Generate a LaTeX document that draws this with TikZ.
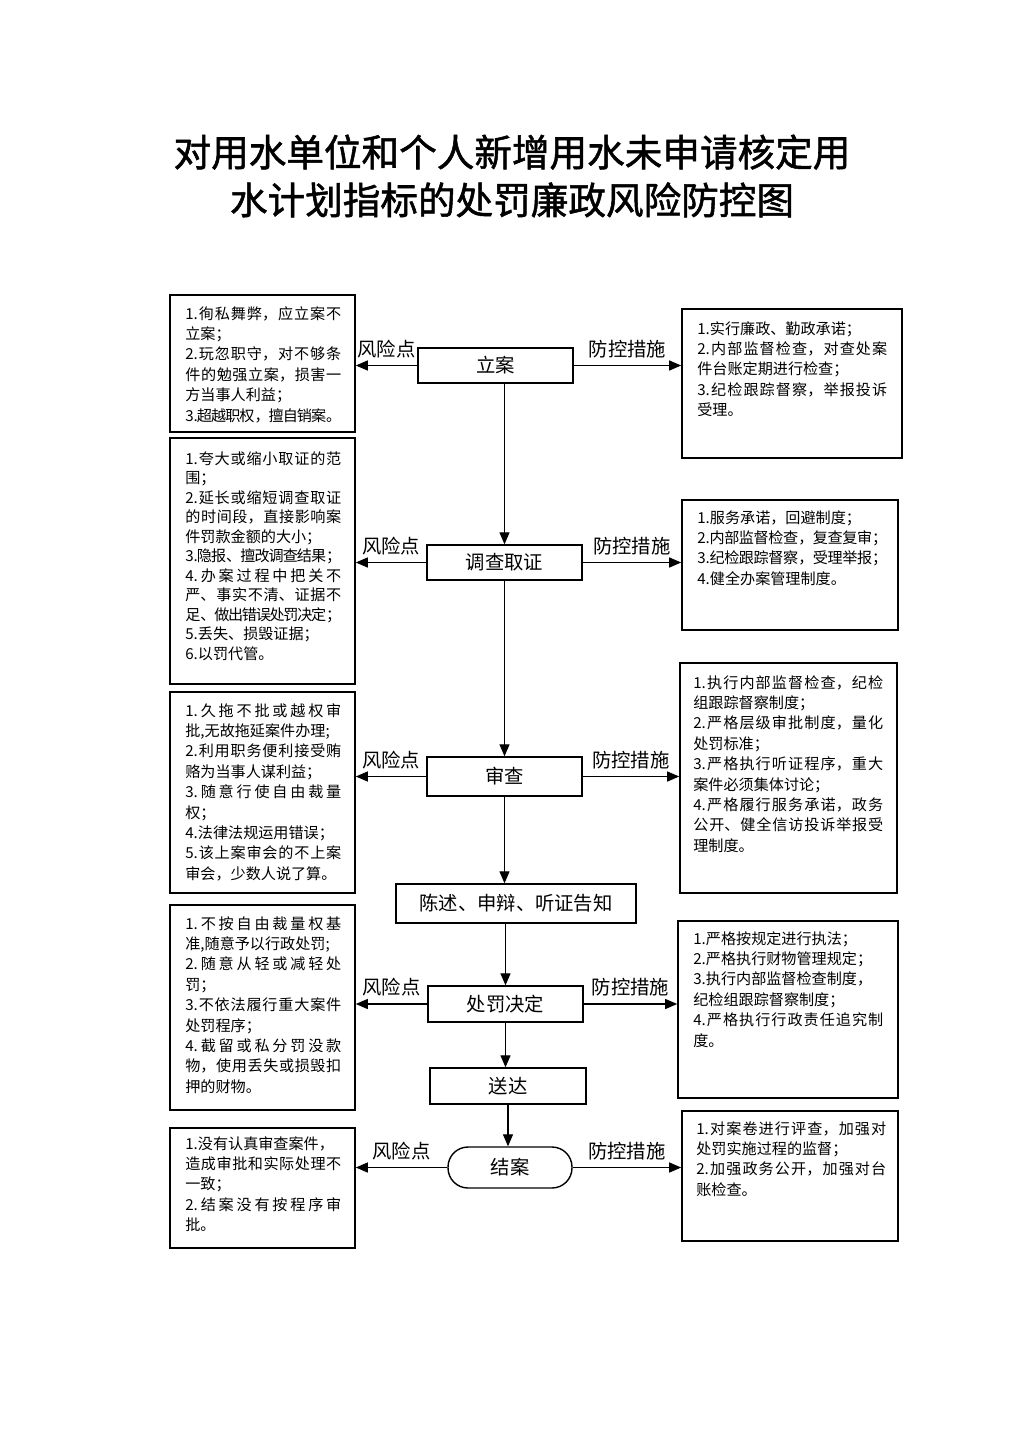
\documentclass[tikz,border=0pt]{standalone}
\usepackage{fontspec}
\setmainfont{Noto Sans CJK SC}
\newfontfamily\titlefont[FakeBold=1.4]{Noto Sans CJK SC}
\usetikzlibrary{arrows.meta,fit,positioning}
\XeTeXlinebreaklocale "zh"
\XeTeXlinebreakskip=0pt plus 4pt minus 2pt
\linepenalty=1000
\tikzstyle{notebox}=[draw=black, line width=0.9pt, inner sep=0pt]
\tikzstyle{stepbox}=[draw=black, line width=0.8pt, font=\fontsize{11}{13}\selectfont]
\tikzstyle{txt}=[anchor=north west, inner sep=0pt, align=justify, font=\fontsize{8.6}{11.6}\selectfont]
\tikzstyle{ltxt}=[txt, text width=3.12cm]
\tikzstyle{rtxt}=[txt, text width=3.8cm]
\tikzstyle{lab}=[font=\fontsize{11}{13}\selectfont, inner sep=1pt]
\tikzstyle{flow}=[-{Triangle[length=2.4mm,width=2mm]}, line width=0.7pt]
\tikzstyle{title}=[align=center, font=\fontsize{21.4}{27.2}\titlefont]

\begin{document}
\begin{tikzpicture}[x=0.02cm, y=-0.02cm]
          \path[fill=white] (0,0) rectangle (1024,1449);
          \useasboundingbox (0,0) rectangle (1024,1449);
          % title
          \node at (512,176) [title] (title) {对用水单位和个人新增用水未申请核定用\\水计划指标的处罚廉政风险防控图};
          % steps
          \node at (495.5,365.5) [stepbox, minimum width=3.1cm, minimum height=0.7cm] (lian) {立案};
          \node at (504.5,562.5) [stepbox, minimum width=3.1cm, minimum height=0.7cm] (diaocha) {调查取证};
          \node at (504.5,776.5) [stepbox, minimum width=3.1cm, minimum height=0.78cm] (shencha) {审查};
          \node at (516,903.5) [stepbox, minimum width=4.8cm, minimum height=0.78cm] (chenshu) {陈述、申辩、听证告知};
          \node at (505.5,1004) [stepbox, minimum width=3.1cm, minimum height=0.72cm] (chufa) {处罚决定};
          \node at (508,1086) [stepbox, minimum width=3.12cm, minimum height=0.72cm] (songda) {送达};
          \node at (510,1167.5) [stepbox, rounded corners=0.4cm, minimum width=2.48cm, minimum height=0.82cm] (jiean) {结案};
          % risk boxes
          \node [notebox, fit={(170,295) (355,432)}] (risk1) {};
          \node at (185,306) [ltxt] (risk1t) {1.徇私舞弊，应立案不\linebreak 立案；\\2.玩忽职守，对不够条\linebreak 件的勉强立案，损害一\linebreak 方当事人利益；\\3.超越职权，擅自销案。};
          \node [notebox, fit={(170,438) (355,684)}] (risk2) {};
          \node at (185,451) [ltxt, font=\fontsize{8.6}{11.1}\selectfont] (risk2t) {1.夸大或缩小取证的范\linebreak 围；\\2.延长或缩短调查取证\linebreak 的时间段，直接影响案\linebreak 件罚款金额的大小；\\3.隐报、擅改调查结果；\\4.办案过程中把关不\linebreak 严、事实不清、证据不\linebreak 足、做出错误处罚决定；\\5.丢失、损毁证据；\\6.以罚代管。};
          \node [notebox, fit={(170,692) (355,893)}] (risk3) {};
          \node at (185,703) [ltxt] (risk3t) {1.久拖不批或越权审\linebreak 批,无故拖延案件办理;\\2.利用职务便利接受贿\linebreak 赂为当事人谋利益；\\3.随意行使自由裁量\linebreak 权；\\4.法律法规运用错误；\\5.该上案审会的不上案\linebreak 审会，少数人说了算。};
          \node [notebox, fit={(170,905) (355,1110)}] (risk4) {};
          \node at (185,916) [ltxt] (risk4t) {1.不按自由裁量权基\linebreak 准,随意予以行政处罚;\\2.随意从轻或减轻处\linebreak 罚；\\3.不依法履行重大案件\linebreak 处罚程序；\\4.截留或私分罚没款\linebreak 物，使用丢失或损毁扣\linebreak 押的财物。};
          \node [notebox, fit={(170,1128) (355,1248)}] (risk5) {};
          \node at (185,1136) [ltxt] (risk5t) {1.没有认真审查案件，\\造成审批和实际处理不\linebreak 一致；\\2.结案没有按程序审\linebreak 批。};
          % control boxes
          \node [notebox, fit={(682,309) (902,458)}] (ctrl1) {};
          \node at (697,321) [rtxt] (ctrl1t) {1.实行廉政、勤政承诺；\\2.内部监督检查，对查处案\linebreak 件台账定期进行检查；\\3.纪检跟踪督察，举报投诉\linebreak 受理。};
          \node [notebox, fit={(682,500) (898,630)}] (ctrl2) {};
          \node at (697,510) [rtxt] (ctrl2t) {1.服务承诺，回避制度；\\2.内部监督检查，复查复审；\\3.纪检跟踪督察，受理举报；\\4.健全办案管理制度。};
          \node [notebox, fit={(680,663) (897,893)}] (ctrl3) {};
          \node at (693,675) [rtxt] (ctrl3t) {1.执行内部监督检查，纪检\linebreak 组跟踪督察制度；\\2.严格层级审批制度，量化\linebreak 处罚标准；\\3.严格执行听证程序，重大\linebreak 案件必须集体讨论；\\4.严格履行服务承诺，政务\linebreak 公开、健全信访投诉举报受\linebreak 理制度。};
          \node [notebox, fit={(678,921) (898,1098)}] (ctrl4) {};
          \node at (693,931) [rtxt] (ctrl4t) {1.严格按规定进行执法；\\2.严格执行财物管理规定；\\3.执行内部监督检查制度，\\纪检组跟踪督察制度；\\4.严格执行行政责任追究制\linebreak 度。};
          \node [notebox, fit={(682,1111) (898,1241)}] (ctrl5) {};
          \node at (696,1121) [rtxt] (ctrl5t) {1.对案卷进行评查，加强对\linebreak 处罚实施过程的监督；\\2.加强政务公开，加强对台\linebreak 账检查。};
          % main flow
          \draw[flow] (diaocha.north |- lian.south) -- (diaocha.north);
          \draw[flow] (diaocha.south) -- (shencha.north);
          \draw[flow] (shencha.south) -- (shencha.south |- chenshu.north);
          \draw[flow] (chufa.north |- chenshu.south) -- (chufa.north);
          \draw[flow] (chufa.south) -- (chufa.south |- songda.north);
          \draw[flow] (songda.south) -- (songda.south |- jiean.north);
          % risk and control arrows
          \foreach \s/\n in {lian/1, diaocha/2, shencha/3, chufa/4, jiean/5} {
            \draw[flow] (\s.west) -- (\s.west -| risk\n.east) node[midway, above=3pt, lab] {风险点};
            \draw[flow] (\s.east) -- (\s.east -| ctrl\n.west) node[midway, above=3pt, lab] {防控措施};
          }
        \end{tikzpicture}
\end{document}
